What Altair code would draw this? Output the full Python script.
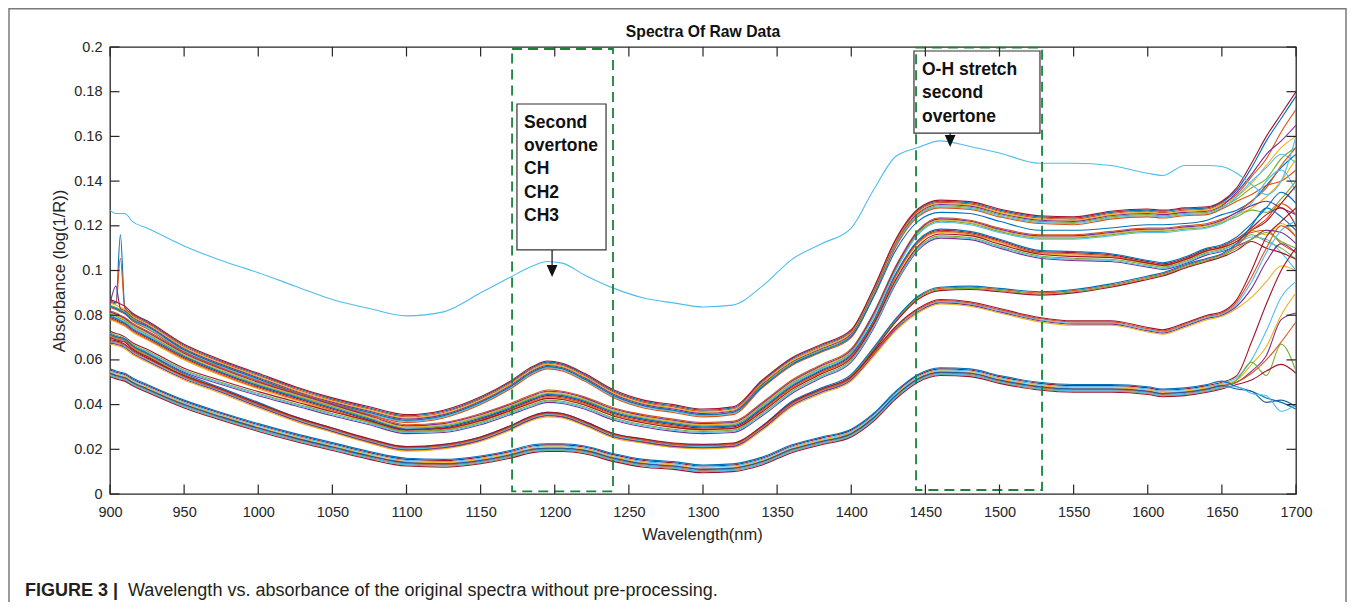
import altair as alt
import pandas as pd

# ---------------- data ----------------
WL = [900, 904, 907, 910, 915, 925, 950, 975, 1000, 1025, 1050, 1075, 1100, 1125,
      1150, 1170, 1185, 1195, 1205, 1220, 1240, 1260, 1280, 1300, 1320, 1340, 1360,
      1380, 1400, 1415, 1430, 1445, 1460, 1480, 1500, 1527, 1550, 1575, 1600, 1610,
      1625, 1640, 1650]
TAIL_WL = [1660, 1670, 1680, 1690, 1700]

A1 = [0.086, 0.085, 0.084, 0.083, 0.080, 0.0765, 0.066, 0.059, 0.053, 0.047, 0.042, 0.038, 0.0345,
      0.0365, 0.0425, 0.0495, 0.056, 0.0585, 0.0575, 0.053, 0.0455, 0.041, 0.039, 0.037, 0.038,
      0.050, 0.060, 0.066, 0.0725, 0.091, 0.113,
      0.1265, 0.1305, 0.1298, 0.1265, 0.1235, 0.123, 0.1255, 0.1265, 0.126, 0.127, 0.1275, 0.130]
A1B = [0.084, 0.083, 0.082, 0.081, 0.078, 0.075, 0.0645, 0.0575, 0.0515, 0.0455, 0.0405, 0.0365, 0.033,
       0.035, 0.041, 0.048, 0.0545, 0.057, 0.056, 0.0515, 0.044, 0.0395, 0.0375, 0.0355, 0.0365,
       0.048, 0.058, 0.064, 0.0705, 0.088, 0.109,
       0.122, 0.126, 0.1255, 0.122, 0.118, 0.118, 0.119, 0.1205, 0.1205, 0.121, 0.1225, 0.125]
A2 = [0.081, 0.080, 0.079, 0.078, 0.0755, 0.072, 0.0625, 0.0555, 0.0495, 0.0445, 0.0395, 0.0345, 0.030,
      0.031, 0.035, 0.0395, 0.0435, 0.0455, 0.045, 0.0425, 0.0375, 0.0345, 0.0325, 0.031, 0.0315,
      0.040, 0.050, 0.057, 0.064, 0.080, 0.101,
      0.117, 0.1226, 0.1215, 0.118, 0.115, 0.115, 0.1165, 0.118, 0.118, 0.119, 0.120, 0.122]
A2B = [0.079, 0.078, 0.077, 0.076, 0.0735, 0.070, 0.061, 0.054, 0.048, 0.043, 0.038, 0.033, 0.0285,
       0.0295, 0.0335, 0.038, 0.042, 0.044, 0.0435, 0.041, 0.036, 0.033, 0.031, 0.0295, 0.030,
       0.038, 0.048, 0.055, 0.062, 0.077, 0.098,
       0.113, 0.118, 0.117, 0.1135, 0.1085, 0.108, 0.107, 0.104, 0.103, 0.1055, 0.1095, 0.111]
A2M = [0.072, 0.071, 0.0705, 0.0695, 0.067, 0.064, 0.0555, 0.050, 0.045, 0.0405, 0.036, 0.032, 0.028,
       0.0285, 0.032, 0.0365, 0.040, 0.042, 0.0415, 0.039, 0.034, 0.031, 0.029, 0.028, 0.0285,
       0.036, 0.046, 0.053, 0.060, 0.075, 0.095,
       0.110, 0.1155, 0.1148, 0.111, 0.1065, 0.1055, 0.105, 0.1025, 0.1015, 0.104, 0.108, 0.1095]
C1 = [0.071, 0.070, 0.0695, 0.069, 0.066, 0.0625, 0.0535, 0.047, 0.0405, 0.034, 0.029, 0.024, 0.0205,
      0.0215, 0.025, 0.030, 0.0345, 0.036, 0.0355, 0.032, 0.0265, 0.024, 0.022, 0.0215, 0.022,
      0.030, 0.041, 0.047, 0.053, 0.065, 0.078,
      0.088, 0.092, 0.0925, 0.0915, 0.090, 0.091, 0.0935, 0.097, 0.0985, 0.102, 0.105, 0.107]
C2 = [0.068, 0.0675, 0.067, 0.066, 0.0635, 0.060, 0.052, 0.046, 0.0395, 0.0335, 0.0285, 0.0237, 0.0202,
      0.0212, 0.0245, 0.0295, 0.034, 0.0355, 0.035, 0.0315, 0.026, 0.0237, 0.0218, 0.0212, 0.0218,
      0.0295, 0.040, 0.046, 0.0515, 0.0625, 0.074,
      0.082, 0.086, 0.085, 0.082, 0.078, 0.0765, 0.0765, 0.0735, 0.0725, 0.0755, 0.079, 0.0805]
D = [0.054, 0.053, 0.0525, 0.052, 0.050, 0.047, 0.040, 0.0345, 0.0295, 0.025, 0.021, 0.017, 0.014,
     0.0135, 0.015, 0.0175, 0.020, 0.0205, 0.0205, 0.0195, 0.016, 0.0135, 0.0125, 0.011, 0.0115,
     0.0145, 0.020, 0.0235, 0.027, 0.034, 0.044,
     0.0515, 0.0545, 0.054, 0.051, 0.048, 0.047, 0.047, 0.046, 0.045, 0.0455, 0.047, 0.0485]
OUTLIER = [0.127, 0.1255, 0.1255, 0.1255, 0.122, 0.119, 0.111, 0.1045, 0.099, 0.093, 0.087, 0.083, 0.0797,
           0.0815, 0.090, 0.097, 0.102, 0.104, 0.1033, 0.098, 0.092, 0.0877, 0.0855, 0.0837, 0.0845,
           0.093, 0.105, 0.112, 0.119, 0.136, 0.151,
           0.155, 0.158, 0.1555, 0.1526, 0.148, 0.148, 0.147, 0.1435, 0.1425, 0.147, 0.147, 0.1465]
OUTLIER_TAIL = [0.1435, 0.1385, 0.134, 0.140, 0.160]

GROUPS = {"A1": A1, "A1B": A1B, "A2": A2, "A2B": A2B, "A2M": A2M, "C1": C1, "C2": C2, "D": D}

BLUE, ORANGE, YELLOW, PURPLE, GREEN, CYAN, DRED = (
    "#0072BD", "#D95319", "#EDB120", "#7E2F8E", "#77AC30", "#4DBEEE", "#A2142F")

# (group, offset, tail values at TAIL_WL, colour)
LINES = [
    ("A1", 0.0005, [0.136, 0.146, 0.158, 0.168, 0.178], BLUE),
    ("A1", 0.0, [0.134, 0.142, 0.150, 0.162, 0.172], ORANGE),
    ("A1", -0.0005, [0.133, 0.139, 0.147, 0.155, 0.160], YELLOW),
    ("A1", -0.001, [0.135, 0.143, 0.152, 0.158, 0.165], PURPLE),
    ("A1", -0.0015, [0.132, 0.137, 0.141, 0.150, 0.155], GREEN),
    ("A1", -0.002, [0.133, 0.140, 0.146, 0.152, 0.148], CYAN),
    ("A1", 0.001, [0.137, 0.148, 0.160, 0.170, 0.180], DRED),
    ("A1", -0.0025, [0.131, 0.134, 0.138, 0.140, 0.145], ORANGE),
    ("A1B", 0.0, [0.127, 0.131, 0.138, 0.146, 0.152], BLUE),
    ("A2", 0.001, [0.126, 0.131, 0.137, 0.147, 0.155], ORANGE),
    ("A2", 0.0, [0.125, 0.128, 0.133, 0.140, 0.150], YELLOW),
    ("A2", -0.0005, [0.124, 0.127, 0.126, 0.132, 0.140], GREEN),
    ("A2", -0.001, [0.125, 0.130, 0.140, 0.145, 0.135], CYAN),
    ("A2", 0.0005, [0.126, 0.129, 0.131, 0.128, 0.125], PURPLE),
    ("A2B", 0.0, [0.114, 0.119, 0.125, 0.128, 0.120], DRED),
    ("A2B", -0.001, [0.113, 0.118, 0.116, 0.121, 0.115], YELLOW),
    ("A2B", 0.0005, [0.115, 0.121, 0.128, 0.135, 0.130], BLUE),
    ("A2B", -0.0005, [0.114, 0.117, 0.118, 0.112, 0.108], ORANGE),
    ("A2M", 0.0, [0.112, 0.116, 0.113, 0.110, 0.105], GREEN),
    ("A2M", -0.001, [0.111, 0.114, 0.118, 0.117, 0.112], PURPLE),
    ("A2M", 0.0008, [0.113, 0.118, 0.122, 0.130, 0.138], DRED),
    ("A2M", -0.0005, [0.112, 0.115, 0.114, 0.108, 0.100], CYAN),
    ("C1", 0.0, [0.111, 0.118, 0.123, 0.130, 0.125], ORANGE),
    ("C1", -0.0005, [0.110, 0.114, 0.117, 0.113, 0.110], GREEN),
    ("C1", 0.0005, [0.112, 0.120, 0.128, 0.124, 0.118], BLUE),
    ("C1", -0.001, [0.109, 0.113, 0.110, 0.108, 0.105], DRED),
    ("C2", 0.0, [0.085, 0.095, 0.108, 0.118, 0.122], CYAN),
    ("C2", -0.0005, [0.084, 0.092, 0.104, 0.112, 0.108], PURPLE),
    ("C2", 0.0005, [0.086, 0.097, 0.110, 0.120, 0.115], ORANGE),
    ("C2", -0.001, [0.083, 0.088, 0.095, 0.102, 0.100], YELLOW),
    ("C2", 0.001, [0.087, 0.100, 0.115, 0.122, 0.128], DRED),
    ("D", 0.0015, [0.053, 0.068, 0.085, 0.100, 0.110], DRED),
    ("D", 0.001, [0.052, 0.060, 0.073, 0.088, 0.095], CYAN),
    ("D", 0.0005, [0.051, 0.058, 0.066, 0.080, 0.090], YELLOW),
    ("D", 0.0, [0.050, 0.055, 0.062, 0.078, 0.081], PURPLE),
    ("D", -0.0005, [0.050, 0.054, 0.060, 0.068, 0.077], ORANGE),
    ("D", -0.001, [0.051, 0.059, 0.053, 0.067, 0.055], GREEN),
    ("D", -0.0015, [0.049, 0.051, 0.055, 0.058, 0.054], DRED),
    ("D", 0.002, [0.048, 0.046, 0.043, 0.041, 0.038], BLUE),
    ("D", 0.0, [0.047, 0.046, 0.041, 0.042, 0.039], "#1F5F9A"),
    ("D", -0.0008, [0.048, 0.045, 0.044, 0.037, 0.040], CYAN),
]
# noise spikes near 905 nm (line index -> {wavelength: value})
SPIKES = {0: {907: 0.116}, 1: {907: 0.1055}, 3: {904: 0.093}}

X_TICKS = list(range(900, 1701, 50))
Y_TICKS = [0, 0.02, 0.04, 0.06, 0.08, 0.1, 0.12, 0.14, 0.16, 0.18, 0.2]

# annotation regions (data units)
GREEN_BOXES = pd.DataFrame({"x": [1171.2, 1443.7], "x2": [1239.3, 1528.7],
                            "y": [0.0012, 0.0018], "y2": [0.1991, 0.1997]})
TEXT_BOXES = pd.DataFrame({"x": [1174.5, 1442.3], "x2": [1234.6, 1527.3],
                           "y": [0.1092, 0.1615], "y2": [0.1745, 0.1982]})
BOX_TEXT = pd.DataFrame({
    "x": [1179.3] * 5 + [1447.7] * 3,
    "y": [0.1639, 0.1535, 0.1430, 0.1326, 0.1222, 0.1875, 0.1771, 0.1666],
    "t": ["Second", "overtone", "CH", "CH2", "CH3", "O-H stretch", "second", "overtone"],
})
ARROWS = pd.DataFrame({"x": [1198.2, 1466.7], "y": [0.1092, 0.1615], "y2": [0.099, 0.1568],
                       "tip": [0.0971, 0.1553]})

# ---------------- build long table ----------------
rows = []
names, colors = [], []
for i, (g, off, tail, col) in enumerate(LINES):
    name = f"s{i:02d}"
    names.append(name)
    colors.append(col)
    base = GROUPS[g]
    for w, v in zip(WL, base):
        val = round(v + off, 5)
        if i in SPIKES and w in SPIKES[i]:
            val = SPIKES[i][w]
        rows.append({"series": name, "wl": w, "a": val})
    for w, v in zip(TAIL_WL, tail):
        rows.append({"series": name, "wl": w, "a": v})
names.append("outlier")
colors.append(CYAN)
for w, v in zip(WL + TAIL_WL, OUTLIER + OUTLIER_TAIL):
    rows.append({"series": "outlier", "wl": w, "a": v})
df = pd.DataFrame(rows)

FONT = "Liberation Sans"
INK = "#262626"

xscale = alt.Scale(domain=[900, 1700], nice=False, zero=False)
yscale = alt.Scale(domain=[0, 0.2], nice=False, zero=False)

lines = alt.Chart(df).mark_line(strokeWidth=1.1, interpolate="monotone", clip=True).encode(
    x=alt.X("wl:Q", scale=xscale, title=None,
            axis=alt.Axis(values=X_TICKS, format="d", ticks=False, domain=False, grid=False,
                          labelFlush=False, labelOverlap=False,
                          labelFont=FONT, labelFontSize=14.5, labelColor=INK, labelPadding=11)),
    y=alt.Y("a:Q", scale=yscale, title=None,
            axis=alt.Axis(values=Y_TICKS, format="~g", ticks=False, domain=False, grid=False,
                          labelFlush=False, labelOverlap=False,
                          labelFont=FONT, labelFontSize=14.5, labelColor=INK, labelPadding=8)),
    color=alt.Color("series:N", scale=alt.Scale(domain=names, range=colors), legend=None),
    order="wl:Q",
)

xt = pd.DataFrame({"v": X_TICKS})
yt = pd.DataFrame({"v": Y_TICKS})
TX = 0.00425   # inward tick length in y units
TY = 6.4       # inward tick length in x units
tick_style = dict(color=INK, strokeWidth=1.2)
xb = alt.Chart(xt).mark_rule(**tick_style).encode(x="v:Q", y=alt.datum(0), y2=alt.datum(TX))
xtop = alt.Chart(xt).mark_rule(**tick_style).encode(x="v:Q", y=alt.datum(0.2), y2=alt.datum(0.2 - TX))
yl = alt.Chart(yt).mark_rule(**tick_style).encode(y="v:Q", x=alt.datum(900), x2=alt.datum(900 + TY))
yr = alt.Chart(yt).mark_rule(**tick_style).encode(y="v:Q", x=alt.datum(1700), x2=alt.datum(1700 - TY))

tboxes = alt.Chart(TEXT_BOXES).mark_rect(fill="white", stroke="#333333", strokeWidth=1.2).encode(
    x="x:Q", x2="x2:Q", y="y:Q", y2="y2:Q")
gboxes = alt.Chart(GREEN_BOXES).mark_rect(fillOpacity=0, stroke="#17853A", strokeWidth=1.8,
                                          strokeDash=[10, 6]).encode(
    x="x:Q", x2="x2:Q", y="y:Q", y2="y2:Q")
btext = alt.Chart(BOX_TEXT).mark_text(align="left", baseline="alphabetic", font=FONT,
                                      fontWeight="bold", fontSize=17.5, color="#111111").encode(
    x="x:Q", y="y:Q", text="t:N")
arrow_lines = alt.Chart(ARROWS).mark_rule(color="#111111", strokeWidth=1.2).encode(
    x="x:Q", y="y:Q", y2="y2:Q")
arrow_heads = alt.Chart(ARROWS).mark_point(shape="M-0.9,-2L0.9,-2L0,0Z", filled=True, size=144,
                                           color="#111111", opacity=1).encode(x="x:Q", y="tip:Q")


def label(text, x, y, **kw):
    return alt.Chart(pd.DataFrame({"t": [text]})).mark_text(font=FONT, **kw).encode(
        x=alt.value(x), y=alt.value(y), text="t:N")


title = label("Spectra Of Raw Data", 593, -10.5, fontSize=15.7, fontWeight="bold",
              align="center", baseline="alphabetic", color="#111111")
xtitle = label("Wavelength(nm)", 592.5, 493, fontSize=16.5, align="center",
               baseline="alphabetic", color=INK)
ytitle = label("Absorbance (log(1/R))", -50, 224, fontSize=16.5, align="center",
               baseline="middle", angle=270, color=INK)
cap1 = label("FIGURE 3 |", -85, 549, fontSize=18, fontWeight="bold", align="left",
             baseline="alphabetic", color="#231F20")
cap2 = label("Wavelength vs. absorbance of the original spectra without pre-processing.",
             18, 549, fontSize=18, align="left", baseline="alphabetic", color="#231F20")

frame = alt.Chart(pd.DataFrame({"t": [0]})).mark_rect(fillOpacity=0, stroke="#7a7a7a",
                                                      strokeWidth=1.5).encode(
    x=alt.value(-101), x2=alt.value(1236), y=alt.value(-38.2), y2=alt.value(620))

chart = alt.layer(
    frame, lines, tboxes, gboxes, btext, arrow_lines, arrow_heads,
    xb, xtop, yl, yr, title, xtitle, ytitle, cap1, cap2,
).properties(
    width=1186, height=447,
    padding={"left": 102, "top": 39, "right": 51, "bottom": 108},
    autosize=alt.AutoSizeParams(type="none"),
    background="white",
).configure_view(stroke=INK, strokeWidth=1.3)

chart.save("out.html", embed_options={"renderer": "svg", "actions": False})
